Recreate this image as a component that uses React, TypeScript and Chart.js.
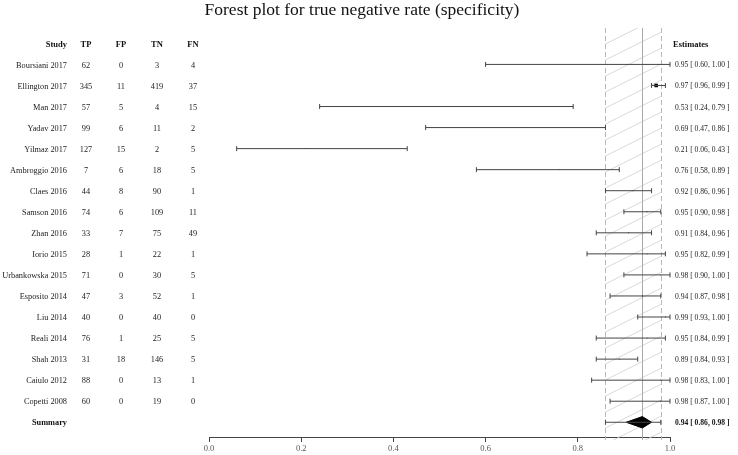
import React, { useEffect, useRef } from "react";
import { Chart, registerables } from "chart.js";

Chart.register(...registerables);

const title = "Forest plot for true negative rate (specificity)";
const headers = ["Study", "TP", "FP", "TN", "FN"];
const estimatesHeader = "Estimates";
const summaryLabel = "Summary";

const studies = [
  "Boursiani 2017", "Ellington 2017", "Man 2017", "Yadav 2017", "Yilmaz 2017",
  "Ambroggio 2016", "Claes 2016", "Samson 2016", "Zhan 2016", "Iorio 2015",
  "Urbankowska 2015", "Esposito 2014", "Liu 2014", "Reali 2014", "Shah 2013",
  "Caiulo 2012", "Copetti 2008",
];
const tp = [62, 345, 57, 99, 127, 7, 44, 74, 33, 28, 71, 47, 40, 76, 31, 88, 60];
const fp = [0, 11, 5, 6, 15, 6, 8, 6, 7, 1, 0, 3, 0, 1, 18, 0, 0];
const tn = [3, 419, 4, 11, 2, 18, 90, 109, 75, 22, 30, 52, 40, 25, 146, 13, 19];
const fn = [4, 37, 15, 2, 5, 5, 1, 11, 49, 1, 5, 1, 0, 5, 5, 1, 0];
const est = [0.95, 0.97, 0.53, 0.69, 0.21, 0.76, 0.92, 0.95, 0.91, 0.95, 0.98, 0.94, 0.99, 0.95, 0.89, 0.98, 0.98];
const lower = [0.60, 0.96, 0.24, 0.47, 0.06, 0.58, 0.86, 0.90, 0.84, 0.82, 0.90, 0.87, 0.93, 0.84, 0.84, 0.83, 0.87];
const upper = [1.00, 0.99, 0.79, 0.86, 0.43, 0.89, 0.96, 0.98, 0.96, 0.99, 1.00, 0.98, 1.00, 0.99, 0.93, 1.00, 1.00];

const summaryEst = 0.94;
const summaryLower = 0.86;
const summaryUpper = 0.98;
const diamondLower = 0.905;
const diamondUpper = 0.96;

const xTicks = [0, 0.2, 0.4, 0.6, 0.8, 1.0];

const fmt = (v: number) => v.toFixed(2);
const estText = (e: number, l: number, u: number) => `${fmt(e)} [ ${fmt(l)}, ${fmt(u)} ]`;

const SERIF = '"Liberation Serif", "Times New Roman", serif';
const LINE = "#444";

export default function App() {
  const ref = useRef<HTMLCanvasElement | null>(null);

  useEffect(() => {
    if (!ref.current) return;
    const summaryRow = studies.length + 1;

    const ciSets = studies.map((_, i) => ({
      label: studies[i],
      data: [
        { x: lower[i], y: i + 1 },
        { x: upper[i], y: i + 1 },
      ],
      showLine: true,
      borderColor: LINE,
      borderWidth: 1,
      pointStyle: "line",
      rotation: 90,
      pointRadius: 2.5,
      pointBorderWidth: 1,
      pointBorderColor: LINE,
      clip: false,
    }));

    const pointSet = {
      label: "estimates",
      data: est.map((e, i) => ({ x: e, y: i + 1 })),
      showLine: false,
      pointStyle: "rect",
      pointRadius: (c: any) => (c.dataIndex === 1 ? 2.5 : 0.6),
      backgroundColor: "#000",
      borderColor: "#000",
      pointBorderWidth: 0,
      clip: false,
    };

    const summaryLine = {
      label: "summary CI",
      data: [
        { x: summaryLower, y: summaryRow },
        { x: summaryUpper, y: summaryRow },
      ],
      showLine: true,
      borderColor: LINE,
      borderWidth: 1,
      pointStyle: "line",
      rotation: 90,
      pointRadius: 2.5,
      pointBorderWidth: 1,
      pointBorderColor: LINE,
      clip: false,
    };

    const diamond = {
      label: "diamond",
      data: [
        { x: diamondLower, y: summaryRow },
        { x: summaryEst, y: summaryRow - 0.27 },
        { x: diamondUpper, y: summaryRow },
        { x: summaryEst, y: summaryRow + 0.27 },
        { x: diamondLower, y: summaryRow },
      ],
      showLine: true,
      fill: "shape",
      backgroundColor: "#000",
      borderColor: "#000",
      borderWidth: 1,
      pointRadius: 0,
      tension: 0,
      clip: false,
    };

    const refPlugin = {
      id: "refPlugin",
      beforeDatasetsDraw(chart: any) {
        const { ctx, chartArea } = chart;
        const xs = chart.scales.x;
        const x1 = xs.getPixelForValue(summaryLower);
        const x2 = xs.getPixelForValue(summaryUpper);
        const xm = xs.getPixelForValue(summaryEst);
        const top = chartArea.top;
        const bottom = chartArea.bottom + 3;
        ctx.save();
        ctx.beginPath();
        ctx.rect(x1, top, x2 - x1, bottom - top);
        ctx.clip();
        ctx.strokeStyle = "#d0d0d0";
        ctx.lineWidth = 0.8;
        const slope = 0.5;
        const w = x2 - x1;
        for (let y0 = top; y0 < bottom + w * slope + 20; y0 += 16) {
          ctx.beginPath();
          ctx.moveTo(x1, y0);
          ctx.lineTo(x2, y0 - w * slope);
          ctx.stroke();
        }
        ctx.restore();
        ctx.save();
        ctx.strokeStyle = "#b8b8b8";
        ctx.lineWidth = 1;
        ctx.setLineDash([5, 3]);
        [x1, x2].forEach((xx) => {
          ctx.beginPath();
          ctx.moveTo(Math.round(xx) + 0.5, top);
          ctx.lineTo(Math.round(xx) + 0.5, bottom);
          ctx.stroke();
        });
        ctx.setLineDash([]);
        ctx.strokeStyle = "#a8a8a8";
        ctx.beginPath();
        ctx.moveTo(Math.round(xm) + 0.5, top);
        ctx.lineTo(Math.round(xm) + 0.5, bottom);
        ctx.stroke();
        ctx.restore();
      },
      afterDraw(chart: any) {
        const { ctx } = chart;
        const ys = chart.scales.y;
        const rowY = (r: number) => ys.getPixelForValue(r) + 1;
        const colX = [67, 86, 121, 157, 193];
        const estX = 673;
        ctx.save();
        ctx.fillStyle = "#111";
        ctx.font = `17.5px ${SERIF}`;
        ctx.textAlign = "center";
        ctx.textBaseline = "alphabetic";
        ctx.fillText(title, 362, 15);

        ctx.textBaseline = "middle";
        ctx.font = `bold 8.5px ${SERIF}`;
        headers.forEach((h, k) => {
          ctx.textAlign = k === 0 ? "right" : "center";
          ctx.fillText(h, colX[k], rowY(0));
        });
        ctx.textAlign = "left";
        ctx.fillText(estimatesHeader, estX, rowY(0));

        studies.forEach((s, i) => {
          const yy = rowY(i + 1);
          ctx.font = `8.3px ${SERIF}`;
          ctx.fillStyle = "#222";
          ctx.textAlign = "right";
          ctx.fillText(s, colX[0], yy);
          ctx.textAlign = "center";
          ctx.fillText(String(tp[i]), colX[1], yy);
          ctx.fillText(String(fp[i]), colX[2], yy);
          ctx.fillText(String(tn[i]), colX[3], yy);
          ctx.fillText(String(fn[i]), colX[4], yy);
          ctx.font = `7.6px ${SERIF}`;
          ctx.textAlign = "left";
          ctx.fillText(estText(est[i], lower[i], upper[i]), estX + 2, yy);
        });

        ctx.fillStyle = "#111";
        const sy = rowY(summaryRow);
        ctx.font = `bold 8.3px ${SERIF}`;
        ctx.textAlign = "right";
        ctx.fillText(summaryLabel, colX[0], sy);
        ctx.font = `bold 7.6px ${SERIF}`;
        ctx.textAlign = "left";
        ctx.fillText(estText(summaryEst, summaryLower, summaryUpper), estX + 2, sy);
        ctx.restore();
      },
    };

    const chart = new Chart(ref.current, {
      type: "scatter",
      data: { datasets: [...ciSets, pointSet, summaryLine, diamond] as any },
      options: {
        animation: false,
        responsive: true,
        maintainAspectRatio: false,
        layout: { padding: { left: 209, right: 68, top: 28, bottom: 0 } },
        plugins: {
          legend: { display: false },
          tooltip: { enabled: false },
          title: { display: false },
        },
        scales: {
          x: {
            type: "linear",
            min: 0,
            max: 1,
            afterBuildTicks: (axis: any) => {
              axis.ticks = xTicks.map((v) => ({ value: v }));
            },
            afterFit: (axis: any) => {
              axis.height = 18;
            },
            grid: {
              drawOnChartArea: false,
              drawTicks: true,
              tickLength: 5,
              color: LINE,
              lineWidth: 1,
            },
            border: { display: true, color: LINE, width: 1 },
            ticks: {
              padding: 2,
              color: "#555",
              font: { family: SERIF, size: 8.5 },
              maxRotation: 0,
              autoSkip: false,
              callback: (v: any) => Number(v).toFixed(1),
            },
          },
          y: {
            type: "linear",
            reverse: true,
            min: -0.73,
            max: 18.7,
            display: false,
          },
        },
      },
      plugins: [refPlugin],
    });
    return () => chart.destroy();
  }, []);

  return (
    <div style={{ position: "absolute", left: 0, top: 0, width: 738, height: 455, background: "#fff" }}>
      <canvas ref={ref} />
    </div>
  );
}
